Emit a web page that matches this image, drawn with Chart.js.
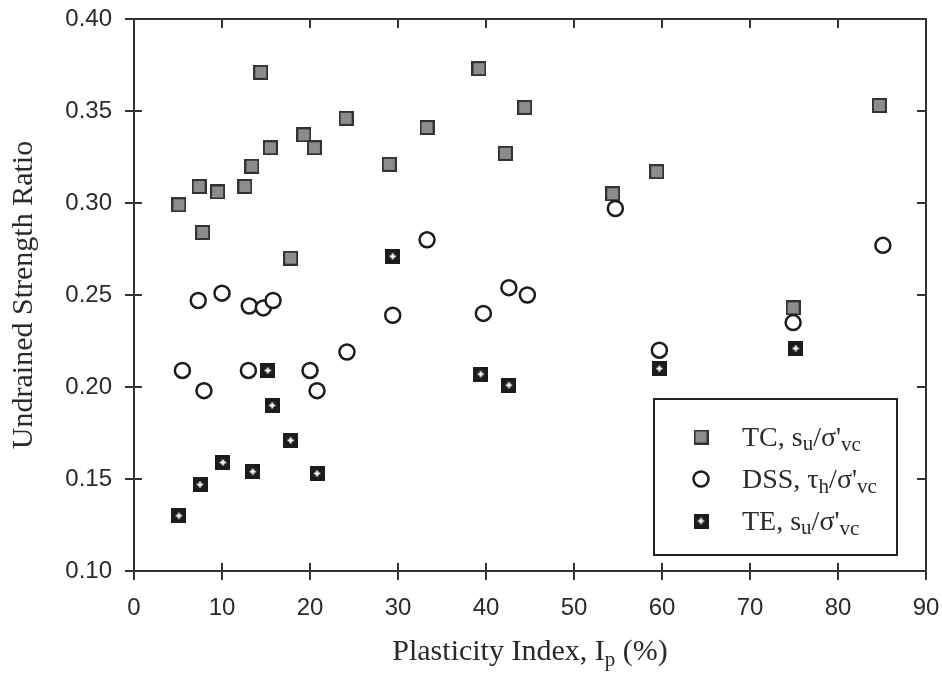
<!DOCTYPE html>
<html>
<head>
<meta charset="utf-8">
<script src="https://cdn.jsdelivr.net/npm/chart.js@4/dist/chart.umd.min.js"></script>
<style>
  html, body { margin: 0; padding: 0; background: #fff; }
  canvas { display: block; }
</style>
</head>
<body>
<canvas id="chart" width="942" height="681"></canvas>
<script>
// --- data ---
const tcIp    = [5.1, 7.4, 7.8, 9.5, 12.6, 13.4, 14.4, 15.5, 17.8, 19.3, 20.5, 24.1, 29.0, 33.3, 39.2, 42.2, 44.4, 54.4, 59.4, 74.9, 84.7];
const tcRatio = [0.299, 0.309, 0.284, 0.306, 0.309, 0.320, 0.371, 0.330, 0.270, 0.337, 0.330, 0.346, 0.321, 0.341, 0.373, 0.327, 0.352, 0.305, 0.317, 0.243, 0.353];

const dssIp    = [5.5, 7.3, 7.95, 10.0, 13.0, 13.1, 14.7, 15.8, 20.0, 20.8, 24.2, 29.4, 33.3, 39.7, 42.6, 44.7, 54.7, 59.7, 74.9, 85.1];
const dssRatio = [0.209, 0.247, 0.198, 0.251, 0.209, 0.244, 0.243, 0.247, 0.209, 0.198, 0.219, 0.239, 0.280, 0.240, 0.254, 0.250, 0.297, 0.220, 0.235, 0.277];

const teIp    = [5.1, 7.5, 10.1, 13.5, 15.2, 15.7, 17.8, 20.8, 29.4, 39.4, 42.6, 59.7, 75.2];
const teRatio = [0.130, 0.147, 0.159, 0.154, 0.209, 0.190, 0.171, 0.153, 0.271, 0.207, 0.201, 0.210, 0.221];

const xTicks = [0, 10, 20, 30, 40, 50, 60, 70, 80, 90];
const yTicks = [0.10, 0.15, 0.20, 0.25, 0.30, 0.35, 0.40];

const pts = (xs, ys) => xs.map((v, i) => ({ x: v, y: ys[i] }));

// marker images
function squareMarker(size, fill, stroke, plus) {
  const c = document.createElement('canvas');
  c.width = size; c.height = size;
  const g = c.getContext('2d');
  g.fillStyle = stroke;
  g.fillRect(0, 0, size, size);
  g.fillStyle = fill;
  g.fillRect(2, 2, size - 4, size - 4);
  if (plus) {
    const m = size / 2;
    g.fillStyle = '#fff';
    g.fillRect(m - 1, m - 3, 2, 6);
    g.fillRect(m - 3, m - 1, 6, 2);
  }
  return c;
}
const tcMark = squareMarker(15, '#8c8c8c', '#333', false);
const teMark = squareMarker(15, '#1c1c1c', '#1c1c1c', true);

const ink = '#2a2a2a';

function subText(ctx, parts, x, y) {
  // parts: [text, size, dy]
  let cx = x;
  parts.forEach(([t, s, dy]) => {
    ctx.font = s + 'px "Liberation Serif"';
    ctx.fillText(t, cx, y + dy);
    cx += ctx.measureText(t).width;
  });
  return cx - x;
}
function subWidth(ctx, parts) {
  let w = 0;
  parts.forEach(([t, s]) => { ctx.font = s + 'px "Liberation Serif"'; w += ctx.measureText(t).width; });
  return w;
}

const framePlugin = {
  id: 'frame',
  afterDraw(chart) {
    const { ctx, chartArea: a, scales: { x, y } } = chart;
    ctx.save();
    ctx.strokeStyle = '#333';
    ctx.lineWidth = 2;
    ctx.beginPath();
    ctx.moveTo(a.left, a.top); ctx.lineTo(a.right, a.top); ctx.lineTo(a.right, a.bottom);
    ctx.stroke();
    ctx.beginPath();
    y.ticks.forEach(t => {
      const py = y.getPixelForValue(t.value);
      ctx.moveTo(a.left, py); ctx.lineTo(a.left + 8, py);
      ctx.moveTo(a.right - 9, py); ctx.lineTo(a.right, py);
    });
    x.ticks.forEach(t => {
      const px = x.getPixelForValue(t.value);
      ctx.moveTo(px, a.bottom); ctx.lineTo(px, a.bottom - 8);
      ctx.moveTo(px, a.top); ctx.lineTo(px, a.top + 9);
    });
    ctx.stroke();

    // axis titles
    ctx.fillStyle = ink;
    ctx.textBaseline = 'alphabetic';
    const xt = [['Plasticity Index, I', 30, 0], ['p', 21, 6], [' (%)', 30, 0]];
    const xw = subWidth(ctx, xt);
    subText(ctx, xt, (a.left + a.right) / 2 - xw / 2, 660);

    ctx.save();
    ctx.translate(32, (a.top + a.bottom) / 2);
    ctx.rotate(-Math.PI / 2);
    ctx.font = '30px "Liberation Serif"';
    ctx.textAlign = 'center';
    ctx.fillText('Undrained Strength Ratio', 0, 0);
    ctx.restore();

    // legend
    ctx.strokeStyle = '#222';
    ctx.strokeRect(654, 399, 243, 156);
    const mx = 701, tx = 742;
    const rows = [
      { y: 437, mark: 'tc', parts: [['TC, s', 28, 0], ['u', 21, 4], ['/\u03c3\'', 28, 0], ['vc', 21, 5]] },
      { y: 479, mark: 'dss', parts: [['DSS, \u03c4', 28, 0], ['h', 21, 5], ['/\u03c3\'', 28, 0], ['vc', 21, 5]] },
      { y: 521, mark: 'te', parts: [['TE, s', 28, 0], ['u', 21, 4], ['/\u03c3\'', 28, 0], ['vc', 21, 5]] }
    ];
    rows.forEach(r => {
      if (r.mark === 'tc') ctx.drawImage(tcMark, mx - 7.5, r.y - 7.5);
      if (r.mark === 'te') ctx.drawImage(teMark, mx - 7.5, r.y - 7.5);
      if (r.mark === 'dss') {
        ctx.beginPath();
        ctx.lineWidth = 2.5;
        ctx.strokeStyle = '#1c1c1c';
        ctx.arc(mx, r.y, 7.5, 0, Math.PI * 2);
        ctx.stroke();
      }
      ctx.fillStyle = ink;
      subText(ctx, r.parts, tx, r.y + 9);
    });
    ctx.restore();
  }
};

new Chart(document.getElementById('chart'), {
  type: 'scatter',
  data: {
    datasets: [
      { label: 'TC', data: pts(tcIp, tcRatio), pointStyle: tcMark, order: 3 },
      { label: 'DSS', data: pts(dssIp, dssRatio), pointStyle: 'circle', pointRadius: 7.5,
        backgroundColor: '#fff', borderColor: '#1c1c1c', borderWidth: 2.5, order: 2 },
      { label: 'TE', data: pts(teIp, teRatio), pointStyle: teMark, order: 1 }
    ]
  },
  options: {
    responsive: false,
    animation: false,
    events: [],
    layout: { padding: { left: 0, right: 16, top: 19, bottom: 0 } },
    plugins: { legend: { display: false }, tooltip: { enabled: false } },
    scales: {
      x: {
        type: 'linear', min: 0, max: 90,
        afterBuildTicks: s => { s.ticks = xTicks.map(v => ({ value: v })); },
        afterFit: s => { s.height = 110; s.paddingLeft = 0; s.paddingRight = 0; },
        ticks: { font: { family: 'Liberation Sans', size: 24 }, color: ink, padding: 14 },
        grid: { drawOnChartArea: false, tickLength: 9, color: '#333', lineWidth: 2 },
        border: { color: '#333', width: 2 }
      },
      y: {
        type: 'linear', min: 0.1, max: 0.4,
        afterBuildTicks: s => { s.ticks = yTicks.map(v => ({ value: v })); },
        afterFit: s => { s.width = 134; s.paddingTop = 0; s.paddingBottom = 0; },
        ticks: { font: { family: 'Liberation Sans', size: 24 }, color: ink, padding: 13,
                 callback: v => v.toFixed(2) },
        grid: { drawOnChartArea: false, tickLength: 9, color: '#333', lineWidth: 2 },
        border: { color: '#333', width: 2 }
      }
    }
  },
  plugins: [framePlugin]
});
</script>
</body>
</html>
